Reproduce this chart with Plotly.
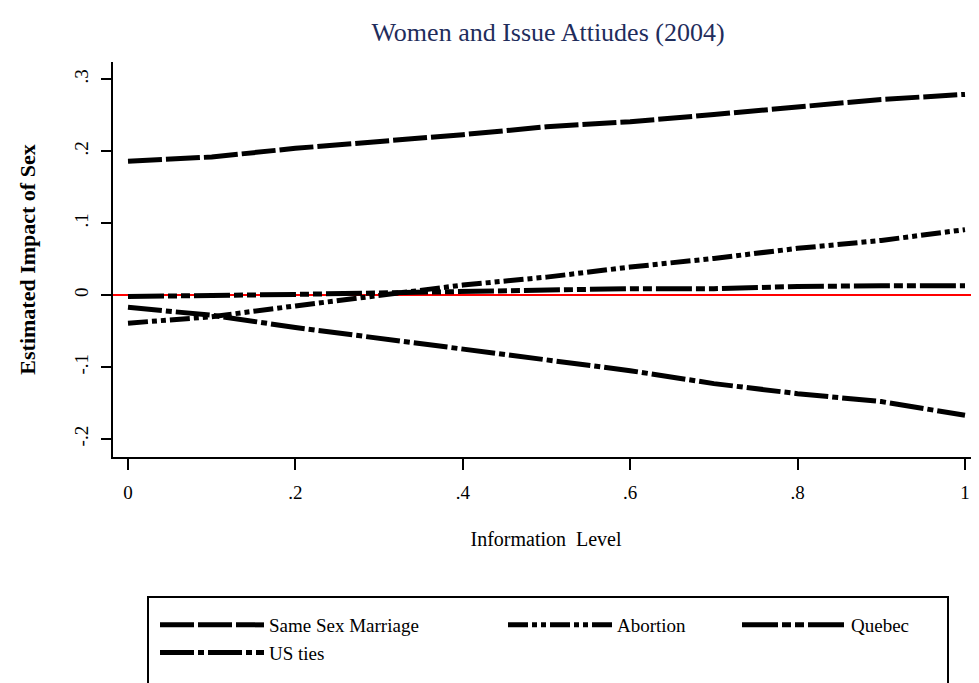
import plotly.graph_objects as go

# ---- data ----
info_level = [0.0, 0.1, 0.2, 0.3, 0.4, 0.5, 0.6, 0.7, 0.8, 0.9, 1.0]
same_sex_marriage = [0.186, 0.192, 0.204, 0.213, 0.223, 0.234, 0.241, 0.251, 0.262, 0.272, 0.279]
abortion = [-0.039, -0.030, -0.015, -0.001, 0.014, 0.025, 0.039, 0.051, 0.065, 0.076, 0.091]
quebec = [-0.002, -0.001, 0.001, 0.003, 0.005, 0.006, 0.009, 0.009, 0.012, 0.013, 0.013]
us_ties = [-0.017, -0.028, -0.045, -0.060, -0.074, -0.090, -0.105, -0.123, -0.137, -0.148, -0.167]

x_tickvals = [0, 0.2, 0.4, 0.6, 0.8, 1]
x_ticktext = ["0", ".2", ".4", ".6", ".8", "1"]
y_tickvals = [-0.2, -0.1, 0, 0.1, 0.2, 0.3]
y_ticktext = ["-.2", "-.1", "0", ".1", ".2", ".3"]

SERIF = "Liberation Serif"
OFF = 8  # page body margin
W, H = 979 - OFF, 683 - OFF

fig = go.Figure()
fig.add_trace(go.Scatter(x=info_level, y=same_sex_marriage, mode="lines", name="Same Sex Marriage",
                         line=dict(color="black", width=5, dash="34px,4px"), legend="legend"))
fig.add_trace(go.Scatter(x=info_level, y=abortion, mode="lines", name="Abortion",
                         line=dict(color="black", width=5, dash="20px,4px,5px,4px,5px,4px"), legend="legend2"))
fig.add_trace(go.Scatter(x=info_level, y=quebec, mode="lines", name="Quebec",
                         line=dict(color="black", width=5, dash="36px,4px,9px,4px,9px,4px"), legend="legend3"))
fig.add_trace(go.Scatter(x=info_level, y=us_ties, mode="lines", name="US ties",
                         line=dict(color="black", width=5, dash="34px,4px,6px,4px"), legend="legend"))

leg_common = dict(orientation="v", xanchor="left", yanchor="top", itemwidth=104,
                  font=dict(family=SERIF, size=19, color="black"),
                  bgcolor="rgba(0,0,0,0)", borderwidth=0, tracegroupgap=0, traceorder="normal")

leg_y = (457 - 606) / 395

fig.update_layout(
    width=W, height=H,
    margin=dict(l=113 - OFF, r=0, t=62 - OFF, b=H - (457 - OFF), autoexpand=False),
    paper_bgcolor="white", plot_bgcolor="white",
    title=dict(text="Women and Issue Attiudes (2004)", x=(548 - OFF) / W, xref="container", xanchor="center",
               y=1 - (32 - OFF) / H, yref="container", yanchor="middle",
               font=dict(family=SERIF, size=26, color="#1f2d5c")),
    xaxis=dict(range=[(113-128)/837, 1 + (979-965)/837], tickvals=x_tickvals, ticktext=x_ticktext,
               showgrid=False, zeroline=False, showline=True, linecolor="black", linewidth=2,
               ticks="outside", ticklen=11, tickwidth=2, tickcolor="black",
               tickfont=dict(family=SERIF, size=19, color="black"), ticklabelstandoff=6,
               title=dict(text="Information  Level", font=dict(family=SERIF, size=20, color="black"), standoff=30)),
    yaxis=dict(range=[-0.225, 0.324], tickvals=y_tickvals, ticktext=y_ticktext,
               showgrid=False, zeroline=True, zerolinecolor="red", zerolinewidth=2,
               showline=True, linecolor="black", linewidth=2,
               ticks="outside", ticklen=10, tickwidth=2, tickcolor="black", tickangle=-90,
               tickfont=dict(family=SERIF, size=19, color="black"), ticklabelstandoff=5,
               title=dict(text="<b>Estimated Impact of Sex</b>", font=dict(family=SERIF, size=22, color="black"), standoff=30)),
    legend=dict(x=(155-113)/866, y=leg_y, **leg_common),
    legend2=dict(x=(503-113)/866, y=leg_y, **leg_common),
    legend3=dict(x=(737-113)/866, y=leg_y, **leg_common),
    shapes=[dict(type="rect", xref="paper", yref="paper",
                 x0=(148-113)/866, x1=(948-113)/866, y0=(457-597)/395, y1=(457-700)/395,
                 line=dict(color="black", width=2), fillcolor="rgba(0,0,0,0)", layer="above")],
    showlegend=True,
)

fig.write_html("out.html")
